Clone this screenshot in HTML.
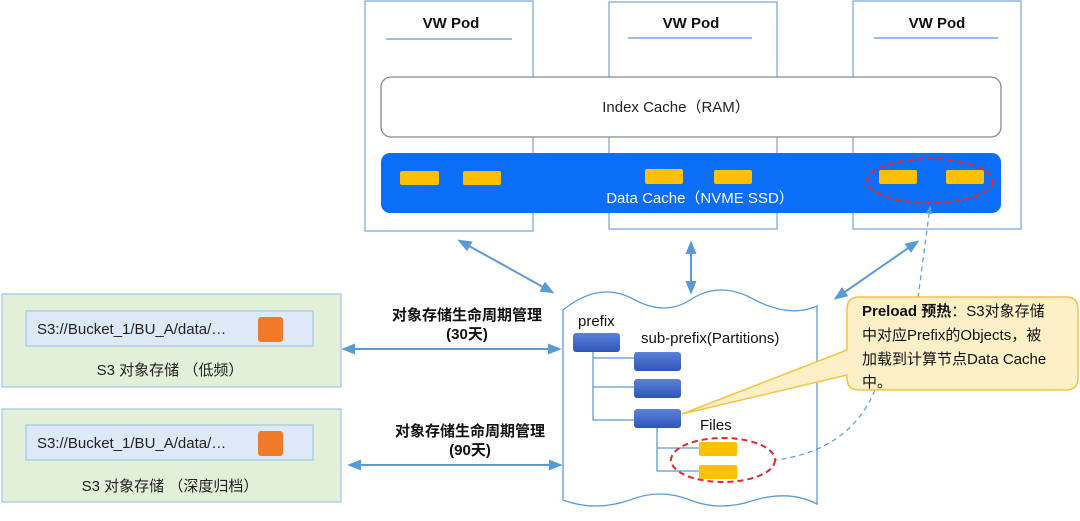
<!DOCTYPE html>
<html><head><meta charset="utf-8"><style>
body{margin:0;width:1080px;height:516px;background:#fff;overflow:hidden}
svg text{font-family:"Liberation Sans","Noto Sans CJK SC",sans-serif}
</style></head><body>
<svg width="1080" height="516" viewBox="0 0 1080 516" xmlns="http://www.w3.org/2000/svg">
<defs>
<marker id="a" viewBox="0 0 10 10" refX="8" refY="5" markerWidth="7" markerHeight="7" orient="auto-start-reverse"><path d="M0,1 L10,5 L0,9 z" fill="#5b9bd5"/></marker>
<linearGradient id="bl" x1="0" y1="0" x2="0" y2="1"><stop offset="0" stop-color="#5b82d8"/><stop offset="1" stop-color="#2f55b8"/></linearGradient>
</defs>
<g fill="#fff" stroke="#7eaadc" stroke-width="1.3">
<rect x="365" y="1" width="168" height="230"/>
<rect x="609" y="2" width="168" height="227"/>
<rect x="853" y="1" width="168" height="228"/>
</g>
<g font-size="15" font-weight="bold" text-anchor="middle" fill="#111">
<text x="451" y="28">VW Pod</text><text x="691" y="28">VW Pod</text><text x="937" y="28">VW Pod</text>
</g>
<g stroke="#5b9bd5" stroke-width="1.3">
<line x1="386" y1="39" x2="512" y2="39"/><line x1="628" y1="38" x2="752" y2="38"/><line x1="874" y1="38" x2="998" y2="38"/>
</g>
<rect x="381" y="77" width="620" height="60" rx="10" fill="#fff" stroke="#888" stroke-width="1.3"/>
<text x="676" y="112" font-size="15" text-anchor="middle" fill="#222">Index Cache（RAM）</text>
<rect x="381" y="153" width="620" height="60" rx="9" fill="#0a6ef6"/>
<text x="700" y="203" font-size="15" text-anchor="middle" fill="#fff">Data Cache（NVME  SSD）</text>
<g fill="#fec000">
<rect x="400" y="171" width="39" height="14" rx="2"/><rect x="463" y="171" width="38" height="14" rx="2"/>
<rect x="645" y="169" width="38" height="15" rx="2"/><rect x="714" y="170" width="38" height="14" rx="2"/>
<rect x="879" y="170" width="38" height="14" rx="2"/><rect x="946" y="170" width="38" height="14" rx="2"/>
</g>
<ellipse cx="930" cy="181" rx="63" ry="22" fill="none" stroke="#e8262b" stroke-width="2" stroke-dasharray="6,4"/>
<g stroke="#5b9bd5" stroke-width="2" fill="none" marker-start="url(#a)" marker-end="url(#a)">
<line x1="460" y1="241" x2="552" y2="292"/>
<line x1="691" y1="243" x2="691" y2="292"/>
<line x1="917" y1="242" x2="836" y2="298"/>
<line x1="344" y1="349" x2="559" y2="349"/>
<line x1="350" y1="465" x2="560" y2="465"/>
</g>
<path d="M918,298 L930,207" stroke="#5b9bd5" stroke-width="1.2" stroke-dasharray="5,4" fill="none" marker-end="url(#a)"/>
<g>
<rect x="2" y="294" width="339" height="93" fill="#e2efd9" stroke="#a7c8ea" stroke-width="1.3"/>
<rect x="26" y="311" width="287" height="35" fill="#dde9f7" stroke="#a7c8ea" stroke-width="1.3"/>
<text x="37" y="334" font-size="15" fill="#222">S3://Bucket_1/BU_A/data/…</text>
<rect x="258" y="317" width="25" height="25" rx="3" fill="#ef7a2a"/>
<text x="170" y="375" font-size="15" text-anchor="middle" fill="#222">S3 对象存储 （低频）</text>
<rect x="2" y="409" width="339" height="93" fill="#e2efd9" stroke="#a7c8ea" stroke-width="1.3"/>
<rect x="26" y="425" width="287" height="35" fill="#dde9f7" stroke="#a7c8ea" stroke-width="1.3"/>
<text x="37" y="448" font-size="15" fill="#222">S3://Bucket_1/BU_A/data/…</text>
<rect x="258" y="431" width="25" height="25" rx="3" fill="#ef7a2a"/>
<text x="170" y="491" font-size="15" text-anchor="middle" fill="#222">S3 对象存储 （深度归档）</text>
</g>
<g font-size="15" font-weight="bold" text-anchor="middle" fill="#111">
<text x="467" y="320">对象存储生命周期管理</text><text x="467" y="339">(30天)</text>
<text x="470" y="436">对象存储生命周期管理</text><text x="470" y="455">(90天)</text>
</g>
<path d="M563,310 Q600,280 635,300 Q665,316 690,300 Q720,280 755,300 Q790,318 817,306 L817,504 Q790,490 755,500 Q720,512 690,500 Q660,488 630,500 Q595,512 563,500 Z" fill="#fff" stroke="#5b9bd5" stroke-width="1.3"/>
<path d="M875,390 Q850,450 776,460" stroke="#5b9bd5" stroke-width="1.2" stroke-dasharray="5,4" fill="none"/>
<text x="578" y="326" font-size="15" fill="#111">prefix</text>
<text x="641" y="343" font-size="15" fill="#111">sub-prefix(Partitions)</text>
<text x="700" y="430" font-size="15" fill="#111">Files</text>
<g stroke="#5b9bd5" stroke-width="1.3" fill="none">
<path d="M593,352 L593,420 L634,420 M593,358 L634,358 M593,387 L634,387"/>
<path d="M657,428 L657,471 L699,471 M657,448 L699,448"/>
</g>
<g fill="url(#bl)">
<rect x="573" y="333" width="47" height="19" rx="3"/>
<rect x="634" y="352" width="47" height="19" rx="3"/>
<rect x="634" y="379" width="47" height="19" rx="3"/>
<rect x="634" y="409" width="47" height="19" rx="3"/>
</g>
<g fill="#fec000"><rect x="699" y="442" width="38" height="14" rx="2"/><rect x="699" y="465" width="38" height="14" rx="2"/></g>
<ellipse cx="723" cy="460" rx="52" ry="22" fill="none" stroke="#e8262b" stroke-width="2" stroke-dasharray="6,4"/>
<path d="M859,297 L1066,297 Q1078,297 1078,309 L1078,378 Q1078,390 1066,390 L859,390 Q847,390 847,378 L847,375 L682,414 L847,350 L847,309 Q847,297 859,297 Z" fill="#fdf0c6" stroke="#f6c342" stroke-width="1.5"/>
<g font-size="15" fill="#111">
<text x="862" y="316"><tspan font-weight="bold">Preload</tspan> <tspan font-weight="bold">预热</tspan>：S3对象存储</text>
<text x="862" y="340">中对应Prefix的Objects，被</text>
<text x="862" y="364">加载到计算节点Data Cache</text>
<text x="862" y="387">中。</text>
</g>
</svg>
</body></html>
